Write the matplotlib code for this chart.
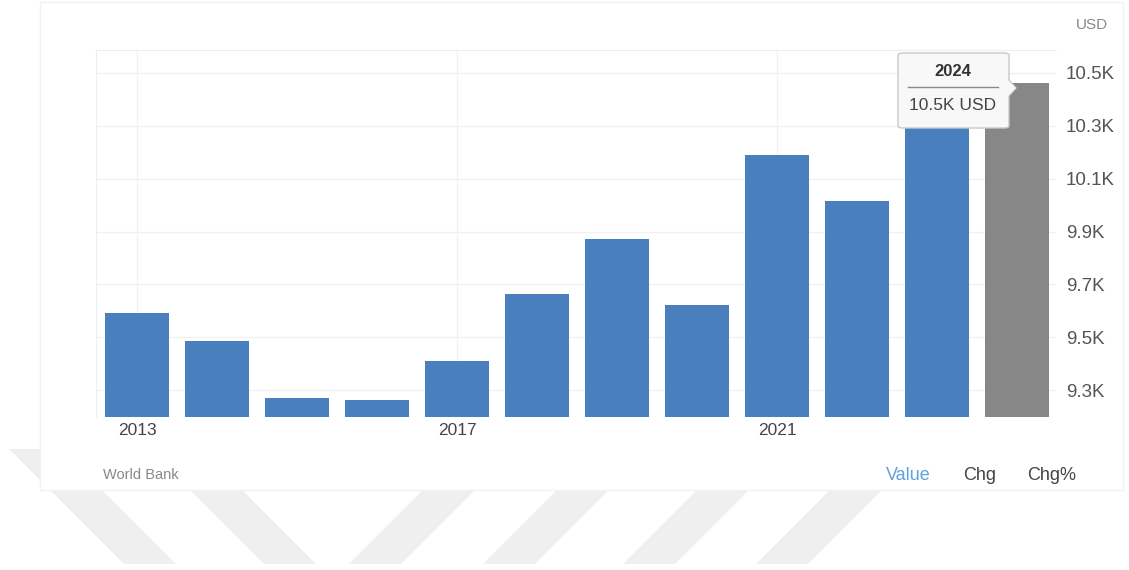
import matplotlib
matplotlib.use("Agg")
import matplotlib.pyplot as plt
from matplotlib.patches import Polygon, Rectangle, FancyBboxPatch
from matplotlib.lines import Line2D
import numpy as np

plt.rcParams['font.family'] = ['Liberation Sans', 'DejaVu Sans']

# GDP per capita (thousand USD), World Bank
years = [2013, 2014, 2015, 2016, 2017, 2018, 2019, 2020, 2021, 2022, 2023, 2024]
values = [9.59, 9.485, 9.27, 9.262, 9.41, 9.663, 9.87, 9.62, 10.19, 10.015, 10.40, 10.462]
ytick_vals = [9.3, 9.5, 9.7, 9.9, 10.1, 10.3, 10.5]
xtick_years = [2013, 2017, 2021]
footer_tabs = ["Value", "Chg", "Chg%"]

W, H = 1129, 570
BLUE = '#4a7fbd'
GRAY = '#878787'


def fx(px):
    return px / W


def fy(py):
    return 1 - py / H


fig = plt.figure(figsize=(W / 100, H / 100), dpi=100)
fig.patch.set_facecolor('white')

# diagonal background stripes under the card
stripe_w = 52
for x0 in [50, 190]:
    pts = [(x0 - 41, 449), (x0 - 41 + stripe_w, 449), (x0 + 74 + stripe_w, 564), (x0 + 74, 564)]
    fig.patches.append(Polygon([(fx(a), fy(b)) for a, b in pts], closed=True,
                               transform=fig.transFigure, facecolor='#efefef',
                               edgecolor='none', zorder=0))
for x0 in [423, 557, 697, 830]:
    pts = [(x0, 490), (x0 + stripe_w, 490), (x0 + stripe_w - 74, 564), (x0 - 74, 564)]
    fig.patches.append(Polygon([(fx(a), fy(b)) for a, b in pts], closed=True,
                               transform=fig.transFigure, facecolor='#efefef',
                               edgecolor='none', zorder=0))

# white card
fig.patches.append(Rectangle((fx(40), fy(490)), fx(1123) - fx(40), fy(2) - fy(490),
                             transform=fig.transFigure, facecolor='white',
                             edgecolor='#f2f2f2', linewidth=1, zorder=1))

ax = fig.add_axes([fx(96), fy(417), fx(1056) - fx(96), fy(50) - fy(417)], zorder=2)
ax.set_facecolor('none')

x = np.arange(len(years))
colors = [BLUE] * (len(years) - 1) + [GRAY]
ax.bar(x, [v - 9.0 for v in values], bottom=9.0, width=0.8, color=colors, zorder=3)

ax.set_xlim(-0.515, 11.485)
ax.set_ylim(9.198, 10.587)

ax.set_xticks([years.index(y) for y in xtick_years])
ax.set_xticklabels([str(y) for y in xtick_years], fontsize=12.5, color='#444444')
ax.set_yticks(ytick_vals)
ax.set_yticklabels([f"{v:.1f}K" for v in ytick_vals], fontsize=13.5, color='#555555')
ax.yaxis.tick_right()
ax.tick_params(axis='both', length=0)
ax.tick_params(axis='y', pad=7)
ax.tick_params(axis='x', pad=4)

ax.grid(True, color='#f1f1f1', linewidth=1, zorder=0)
ax.set_axisbelow(True)
for side in ['right', 'bottom']:
    ax.spines[side].set_visible(False)
for side in ['left', 'top']:
    ax.spines[side].set_color('#eeeeee')

# unit label and footer
fig.text(fx(1092), fy(25), "USD", fontsize=11, color='#888888', ha='center', va='center')
fig.text(fx(103), fy(475), "World Bank", fontsize=10.5, color='#888888', ha='left', va='center')
tab_x = [908, 980, 1052]
tab_colors = ['#5ea3dc', '#444444', '#444444']
for label, px, c in zip(footer_tabs, tab_x, tab_colors):
    fig.text(fx(px), fy(475), label, fontsize=13, color=c, ha='center', va='center')

# tooltip for the last bar
box = FancyBboxPatch((fx(898), fy(128)), fx(1009) - fx(898), fy(53) - fy(128),
                     boxstyle="round,pad=0,rounding_size=0.004",
                     transform=fig.transFigure, facecolor='#f8f8f8',
                     edgecolor='#c8c8c8', linewidth=1, zorder=5)
fig.patches.append(box)
fig.patches.append(Polygon([(fx(1008), fy(80)), (fx(1016), fy(88)), (fx(1008), fy(96))],
                           closed=True, transform=fig.transFigure, facecolor='#f8f8f8',
                           edgecolor='none', zorder=6))
fig.lines.append(Line2D([fx(1009), fx(1016), fx(1009)], [fy(80), fy(88), fy(96)],
                        transform=fig.transFigure, color='#c8c8c8', linewidth=1, zorder=6))
fig.lines.append(Line2D([fx(908), fx(998)], [fy(87), fy(87)],
                        transform=fig.transFigure, color='#888888', linewidth=1, zorder=6))
fig.text(fx(953), fy(72), str(years[-1]), fontsize=12, fontweight='bold', color='#333333',
         ha='center', va='center', zorder=7)
fig.text(fx(953), fy(106), f"{values[-1]:.1f}K USD", fontsize=12.5, color='#444444',
         ha='center', va='center', zorder=7)

fig.savefig("out.png", dpi=100, facecolor='white')
